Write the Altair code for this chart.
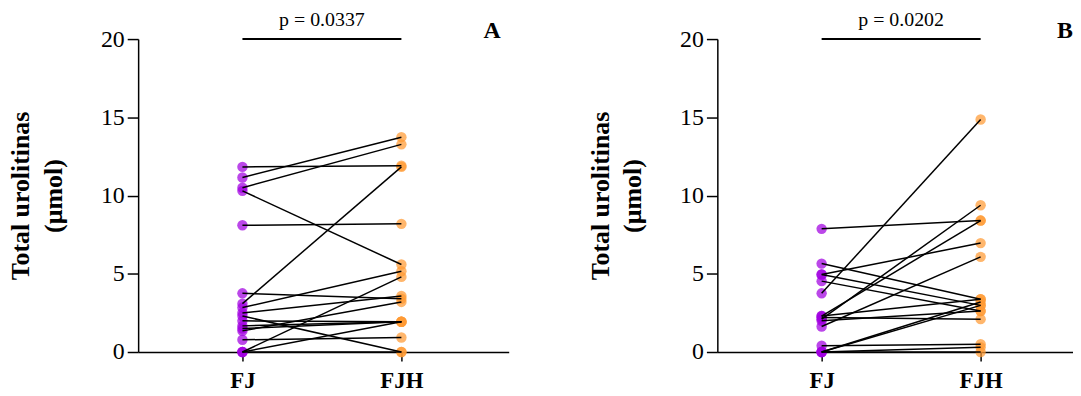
import altair as alt
import pandas as pd

groups = ["FJ", "FJH"]
group_colors = ["#a100e0", "#ff9a33"]

# Panel A values (µmol), paired by subject
fj_A = [11.83, 11.15, 10.5, 10.3, 8.1, 3.75, 3.09, 2.84, 2.5, 2.3, 1.99, 1.67, 1.35, 0.78, 1.5, 0.0, 0.0, 0.0]
fjh_A = [11.9, 13.73, 13.27, 5.59, 8.19, 3.4, 11.83, 5.16, 3.58, 0.0, 1.93, 1.93, 3.2, 0.93, 1.93, 4.8, 1.93, 0.0]

# Panel B values (µmol), paired by subject
fj_B = [7.87, 3.75, 2.1, 2.3, 4.95, 1.63, 5.65, 4.95, 4.53, 2.3, 2.2, 2.0, 0.0, 0.0, 0.4, 0.0, 0.0]
fjh_B = [8.4, 14.86, 9.38, 8.4, 6.96, 6.08, 3.37, 2.98, 2.62, 3.37, 2.1, 2.62, 2.98, 3.2, 0.5, 0.3, 0.0]

p_labels = ["p = 0.0337", "p = 0.0202"]
panel_letters = ["A", "B"]
letter_x = [2.57, 2.53]
y_ticks = [0, 5, 10, 15, 20]

SERIF = "Times New Roman, Liberation Serif, serif"


def make_panel(fj, fjh, p_text, letter, lx, width, xmax):
    rows = []
    for i, (a, b) in enumerate(zip(fj, fjh)):
        rows.append({"subject": i, "pos": 1, "group": groups[0], "value": a})
        rows.append({"subject": i, "pos": 2, "group": groups[1], "value": b})
    df = pd.DataFrame(rows)

    x = alt.X(
        "pos:Q",
        scale=alt.Scale(domain=[0.344, xmax], nice=False, zero=False),
        axis=alt.Axis(
            values=[1, 2],
            labelExpr="datum.value == 1 ? 'FJ' : 'FJH'",
            title=None,
            grid=False,
            labelFont=SERIF,
            labelFontSize=23,
            labelFontWeight="bold",
            labelColor="black",
            labelPadding=9,
            tickSize=9,
            tickColor="black",
            tickWidth=1.5,
            domainColor="black",
            domainWidth=1.5,
        ),
    )
    y = alt.Y(
        "value:Q",
        scale=alt.Scale(domain=[0, 20], nice=False),
        axis=alt.Axis(
            values=y_ticks,
            title=["Total urolitinas", "(µmol)"],
            grid=False,
            labelFont=SERIF,
            labelFontSize=24,
            labelColor="black",
            labelPadding=3,
            tickSize=11,
            tickColor="black",
            tickWidth=1.5,
            domainColor="black",
            domainWidth=1.5,
            titleFont=SERIF,
            titleFontSize=26,
            titleFontWeight="bold",
            titleColor="black",
            titleLineHeight=33,
            titlePadding=34,
        ),
    )

    points = alt.Chart(df).mark_circle(size=110, opacity=0.72).encode(
        x=x,
        y=y,
        color=alt.Color(
            "group:N", scale=alt.Scale(domain=groups, range=group_colors), legend=None
        ),
    )
    lines = alt.Chart(df).mark_line(color="black", strokeWidth=1.5).encode(
        x=x, y=y, detail="subject:N", order="pos:Q"
    )

    bar_df = pd.DataFrame({"pos": [1], "pos2": [2], "value": [20]})
    bar = alt.Chart(bar_df).mark_rule(color="black", strokeWidth=2).encode(
        x=x, x2="pos2:Q", y=y
    )
    p_df = pd.DataFrame({"pos": [1.5], "value": [20.85], "label": [p_text]})
    ptxt = alt.Chart(p_df).mark_text(
        font=SERIF, fontSize=20, color="black", align="center", baseline="alphabetic"
    ).encode(x=x, y=y, text="label:N")
    l_df = pd.DataFrame({"pos": [lx], "value": [20.05], "label": [letter]})
    ltxt = alt.Chart(l_df).mark_text(
        font=SERIF, fontSize=24, fontWeight="bold", color="black",
        align="center", baseline="alphabetic"
    ).encode(x=x, y=y, text="label:N")

    return alt.layer(points, lines, bar, ptxt, ltxt).properties(width=width, height=315)


panel_a = make_panel(fj_A, fjh_A, p_labels[0], panel_letters[0], letter_x[0], 373, 2.675)
panel_b = make_panel(fj_B, fjh_B, p_labels[1], panel_letters[1], letter_x[1], 358, 2.581)

chart = (
    alt.hconcat(panel_a, panel_b, spacing=79)
    .properties(padding={"left": 0, "top": 0, "right": 0, "bottom": 0}, background="white")
    .configure_view(stroke=None)
)

chart.save("out.html", embed_options={"renderer": "svg", "actions": False})
